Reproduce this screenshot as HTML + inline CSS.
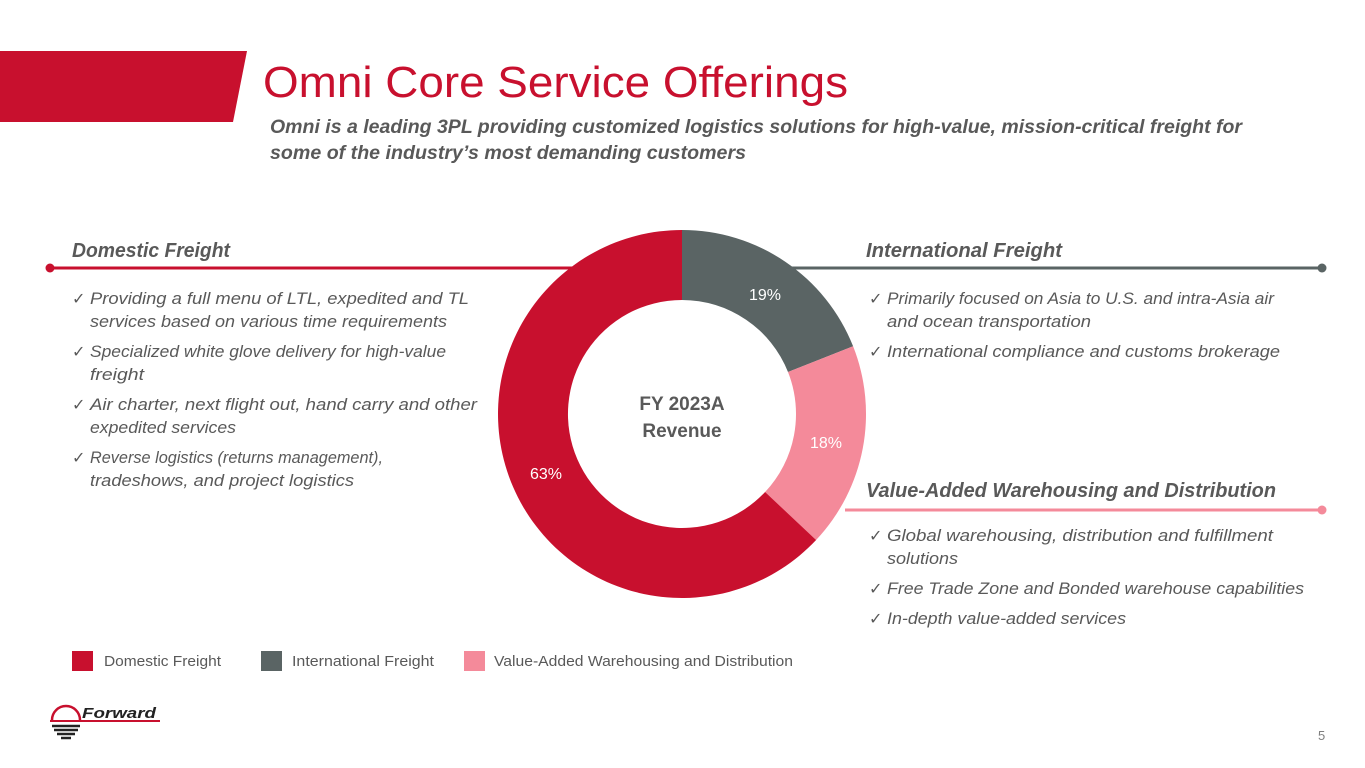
<!DOCTYPE html>
<html><head><meta charset="utf-8"><style>body{margin:0;background:#fff}svg{display:block}</style></head><body>
<svg width="1365" height="768" viewBox="0 0 1365 768" xmlns="http://www.w3.org/2000/svg" font-family="Liberation Sans, sans-serif">
<polygon points="0,51 247,51 233,122 0,122" fill="#C8102E"/>
<text x="263" y="97" font-size="44" fill="#C8102E" textLength="585" lengthAdjust="spacingAndGlyphs">Omni Core Service Offerings</text>
<g font-size="19" font-weight="bold" font-style="italic" fill="#595959">
<text x="270" y="133" textLength="972" lengthAdjust="spacingAndGlyphs">Omni is a leading 3PL providing customized logistics solutions for high-value, mission-critical freight for</text>
<text x="270" y="159" textLength="476" lengthAdjust="spacingAndGlyphs">some of the industry’s most demanding customers</text>
</g>
<line x1="50" y1="268" x2="575" y2="268" stroke="#C8102E" stroke-width="3"/><circle cx="50" cy="268" r="4.5" fill="#C8102E"/>
<line x1="790" y1="268" x2="1322" y2="268" stroke="#5A6464" stroke-width="3"/><circle cx="1322" cy="268" r="4.5" fill="#5A6464"/>
<line x1="845" y1="510" x2="1322" y2="510" stroke="#F48A9A" stroke-width="3"/><circle cx="1322" cy="510" r="4.5" fill="#F48A9A"/>
<path d="M682,230 A184,184 0 0 1 853.1,346.3 L788,372 A114,114 0 0 0 682,300 Z" fill="#5A6464"/>
<path d="M853.1,346.3 A184,184 0 0 1 816.1,540 L765.1,492 A114,114 0 0 0 788,372 Z" fill="#F48A9A"/>
<path d="M816.1,540 A184,184 0 1 1 682,230 L682,300 A114,114 0 1 0 765.1,492 Z" fill="#C8102E"/>
<g fill="#fff" font-size="16" text-anchor="middle"><text x="765" y="300">19%</text><text x="826" y="448">18%</text><text x="546" y="479">63%</text></g>
<g fill="#595959" font-size="19" font-weight="bold" text-anchor="middle"><text x="682" y="410">FY 2023A</text><text x="682" y="437">Revenue</text></g>
<g fill="#595959" font-size="20" font-weight="bold" font-style="italic">
<text x="72" y="257" textLength="158" lengthAdjust="spacingAndGlyphs">Domestic Freight</text>
<text x="866" y="257" textLength="196" lengthAdjust="spacingAndGlyphs">International Freight</text>
<text x="866" y="497" textLength="410" lengthAdjust="spacingAndGlyphs">Value-Added Warehousing and Distribution</text>
</g>
<g fill="#595959" font-size="16" font-weight="bold" font-family="DejaVu Sans, sans-serif">
<text x="72" y="304">✓</text><text x="72" y="357">✓</text><text x="72" y="410">✓</text><text x="72" y="463">✓</text>
<text x="869" y="304">✓</text><text x="869" y="357">✓</text><text x="869" y="541">✓</text><text x="869" y="594">✓</text><text x="869" y="624">✓</text>
</g>
<g fill="#595959" font-size="17" font-style="italic">
<text x="90" y="304" textLength="379" lengthAdjust="spacingAndGlyphs">Providing a full menu of LTL, expedited and TL</text>
<text x="90" y="327" textLength="357" lengthAdjust="spacingAndGlyphs">services based on various time requirements</text>
<text x="90" y="357" textLength="356" lengthAdjust="spacingAndGlyphs">Specialized white glove delivery for high-value</text>
<text x="90" y="380" textLength="54" lengthAdjust="spacingAndGlyphs">freight</text>
<text x="90" y="410" textLength="387" lengthAdjust="spacingAndGlyphs">Air charter, next flight out, hand carry and other</text>
<text x="90" y="433" textLength="146" lengthAdjust="spacingAndGlyphs">expedited services</text>
<text x="90" y="463" textLength="293" lengthAdjust="spacingAndGlyphs">Reverse logistics (returns management),</text>
<text x="90" y="486" textLength="264" lengthAdjust="spacingAndGlyphs">tradeshows, and project logistics</text>
<text x="887" y="304" textLength="387" lengthAdjust="spacingAndGlyphs">Primarily focused on Asia to U.S. and intra-Asia air</text>
<text x="887" y="327" textLength="204" lengthAdjust="spacingAndGlyphs">and ocean transportation</text>
<text x="887" y="357" textLength="393" lengthAdjust="spacingAndGlyphs">International compliance and customs brokerage</text>
<text x="887" y="541" textLength="386" lengthAdjust="spacingAndGlyphs">Global warehousing, distribution and fulfillment</text>
<text x="887" y="564" textLength="71" lengthAdjust="spacingAndGlyphs">solutions</text>
<text x="887" y="594" textLength="417" lengthAdjust="spacingAndGlyphs">Free Trade Zone and Bonded warehouse capabilities</text>
<text x="887" y="624" textLength="239" lengthAdjust="spacingAndGlyphs">In-depth value-added services</text>
</g>
<rect x="72" y="651" width="21" height="20" fill="#C8102E"/>
<rect x="261" y="651" width="21" height="20" fill="#5A6464"/>
<rect x="464" y="651" width="21" height="20" fill="#F48A9A"/>
<g fill="#595959" font-size="15">
<text x="104" y="666" textLength="117" lengthAdjust="spacingAndGlyphs">Domestic Freight</text>
<text x="292" y="666" textLength="142" lengthAdjust="spacingAndGlyphs">International Freight</text>
<text x="494" y="666" textLength="299" lengthAdjust="spacingAndGlyphs">Value-Added Warehousing and Distribution</text>
</g>
<path d="M52,720 A14,14 0 0 1 80,720" fill="none" stroke="#C8102E" stroke-width="2.5"/>
<line x1="50" y1="721" x2="160" y2="721" stroke="#C8102E" stroke-width="2"/>
<g stroke="#222" stroke-width="2.5"><line x1="52" y1="726" x2="80" y2="726"/><line x1="54" y1="730" x2="78" y2="730"/><line x1="57" y1="734" x2="75" y2="734"/><line x1="61" y1="738" x2="71" y2="738"/></g>
<text x="82" y="718" font-size="15" font-weight="bold" font-style="italic" fill="#222" textLength="74" lengthAdjust="spacingAndGlyphs">Forward</text>
<text x="1318" y="740" font-size="13" fill="#7f7f7f">5</text>
</svg>
</body></html>
